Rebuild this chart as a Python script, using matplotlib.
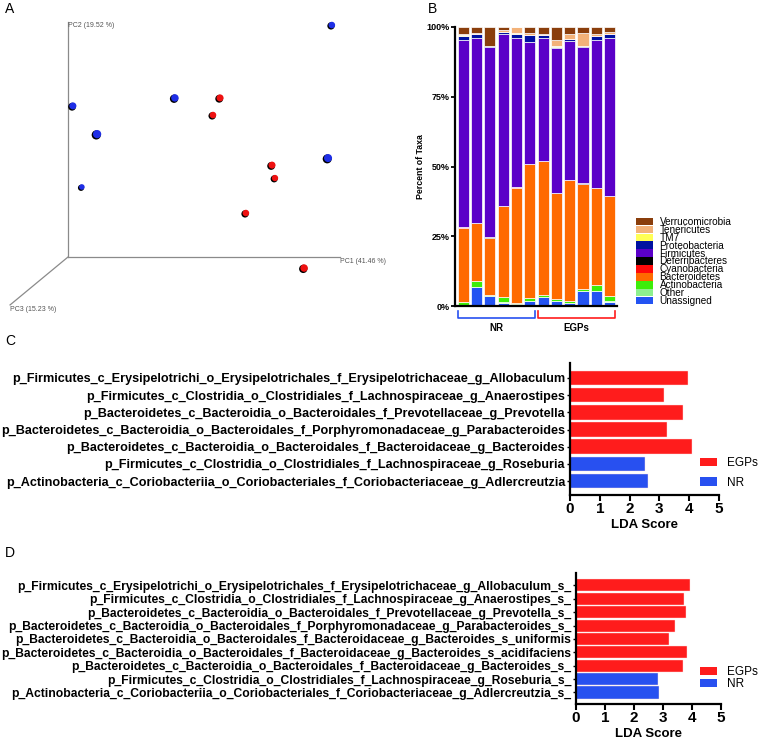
import matplotlib
matplotlib.use("Agg")
import matplotlib.pyplot as plt
from matplotlib.patches import Patch
from matplotlib.transforms import ScaledTranslation, blended_transform_factory
import numpy as np

plt.rcParams['font.family'] = ['Liberation Sans', 'DejaVu Sans']

W, H = 759, 743

# ── Panel A: PCoA, projected on drawing plane (PC1 / PC2 axis length = 1) ─────
blue_x = [0.970, 0.393, 0.018, 0.107, 0.051, 0.956]
blue_y = [0.987, 0.677, 0.643, 0.523, 0.298, 0.421]
blue_s = [28, 36, 32, 44, 20, 42]
red_x = [0.559, 0.533, 0.750, 0.761, 0.654, 0.868]
red_y = [0.677, 0.604, 0.391, 0.336, 0.187, -0.047]
red_s = [32, 28, 32, 26, 28, 36]
pc3_end = (-0.213, -0.204)

# ── Panel B: relative abundance per sample (%) ────────────────────────────────
phyla = ["Unassigned", "Other", "Actinobacteria", "Bacteroidetes", "Cyanobacteria",
         "Deferribacteres", "Firmicutes", "Proteobacteria", "TM7", "Tenericutes",
         "Verrucomicrobia"]
unassigned      = [0.3, 6.9, 3.6, 1.2, 0.7, 1.9, 3.1, 1.7, 1.0, 5.5, 5.2, 1.6]
other           = [0.2, 0.0, 0.0, 0.3, 0.0, 0.0, 0.0, 0.2, 0.2, 0.0, 0.0, 0.3]
actinobacteria  = [0.8, 2.1, 0.2, 1.8, 0.5, 0.8, 0.9, 0.7, 0.7, 0.5, 2.4, 1.7]
bacteroidetes   = [26.8, 20.8, 20.5, 32.4, 41.2, 48.3, 47.8, 38.0, 43.1, 37.9, 34.6, 35.8]
cyanobacteria   = [0.1, 0.0, 0.0, 0.0, 0.1, 0.0, 0.0, 0.0, 0.0, 0.0, 0.0, 0.0]
deferribacteres = [0.0, 0.0, 0.3, 0.0, 0.0, 0.0, 0.0, 0.0, 0.0, 0.3, 0.0, 0.0]
firmicutes      = [67.1, 66.4, 68.1, 61.9, 53.5, 43.8, 44.4, 51.8, 50.0, 48.7, 53.0, 56.5]
proteobacteria  = [1.6, 1.2, 0.5, 0.5, 1.4, 2.3, 0.8, 0.5, 0.6, 0.4, 1.5, 1.7]
tm7             = [0.2, 0.0, 0.0, 0.0, 0.3, 0.0, 0.0, 0.3, 0.0, 0.0, 0.0, 0.0]
tenericutes     = [0.4, 0.3, 0.0, 0.9, 2.3, 0.6, 0.5, 2.3, 2.0, 4.4, 0.7, 0.7]
verrucomicrobia = [2.5, 2.3, 6.8, 1.0, 0.0, 2.3, 2.5, 4.5, 2.4, 2.3, 2.6, 1.7]
groups_b = ["NR"] * 6 + ["EGPs"] * 6

phylum_colors = ["#2353f2", "#8ef08e", "#3ded0a", "#ff6a00", "#ff0a0a", "#000000",
                 "#5a00c8", "#0012a0", "#ffff55", "#f3b279", "#8a3e0c"]

# ── Panel C / D: LEfSe LDA scores ─────────────────────────────────────────────
lda_c_labels = [
    "p_Firmicutes_c_Erysipelotrichi_o_Erysipelotrichales_f_Erysipelotrichaceae_g_Allobaculum",
    "p_Firmicutes_c_Clostridia_o_Clostridiales_f_Lachnospiraceae_g_Anaerostipes",
    "p_Bacteroidetes_c_Bacteroidia_o_Bacteroidales_f_Prevotellaceae_g_Prevotella",
    "p_Bacteroidetes_c_Bacteroidia_o_Bacteroidales_f_Porphyromonadaceae_g_Parabacteroides",
    "p_Bacteroidetes_c_Bacteroidia_o_Bacteroidales_f_Bacteroidaceae_g_Bacteroides",
    "p_Firmicutes_c_Clostridia_o_Clostridiales_f_Lachnospiraceae_g_Roseburia",
    "p_Actinobacteria_c_Coriobacteriia_o_Coriobacteriales_f_Coriobacteriaceae_g_Adlercreutzia",
]
lda_c_values = [3.95, 3.15, 3.80, 3.24, 4.08, 2.52, 2.62]
lda_c_groups = ["EGPs"] * 5 + ["NR"] * 2

lda_d_labels = [
    "p_Firmicutes_c_Erysipelotrichi_o_Erysipelotrichales_f_Erysipelotrichaceae_g_Allobaculum_s_",
    "p_Firmicutes_c_Clostridia_o_Clostridiales_f_Lachnospiraceae_g_Anaerostipes_s_",
    "p_Bacteroidetes_c_Bacteroidia_o_Bacteroidales_f_Prevotellaceae_g_Prevotella_s_",
    "p_Bacteroidetes_c_Bacteroidia_o_Bacteroidales_f_Porphyromonadaceae_g_Parabacteroides_s_",
    "p_Bacteroidetes_c_Bacteroidia_o_Bacteroidales_f_Bacteroidaceae_g_Bacteroides_s_uniformis",
    "p_Bacteroidetes_c_Bacteroidia_o_Bacteroidales_f_Bacteroidaceae_g_Bacteroides_s_acidifaciens",
    "p_Bacteroidetes_c_Bacteroidia_o_Bacteroidales_f_Bacteroidaceae_g_Bacteroides_s_",
    "p_Firmicutes_c_Clostridia_o_Clostridiales_f_Lachnospiraceae_g_Roseburia_s_",
    "p_Actinobacteria_c_Coriobacteriia_o_Coriobacteriales_f_Coriobacteriaceae_g_Adlercreutzia_s_",
]
lda_d_values = [3.94, 3.74, 3.78, 3.40, 3.19, 3.82, 3.69, 2.83, 2.86]
lda_d_groups = ["EGPs"] * 7 + ["NR"] * 2

GROUP_COLORS = {"EGPs": "#ff1c1c", "NR": "#2850f0"}


def box(l, t, r, b):
    # pixel box -> figure fraction rect
    return [l / W, 1 - b / H, (r - l) / W, (b - t) / H]


fig = plt.figure(figsize=(W / 100, H / 100), dpi=100, facecolor="white")

# panel letters
for letter, (px, py) in zip("ABCD", [(5, 9), (428, 9), (5, 341), (5, 553)]):
    fig.text(px / W, 1 - py / H, letter, fontsize=10, ha="left", va="center")

# ── A ─────────────────────────────────────────────────────────────────────────
axA = fig.add_axes(box(68, 22, 340, 257))
axA.set_xlim(0, 1)
axA.set_ylim(0, 1)
axA.axis("off")
axis_kw = dict(color="#8a8a8a", lw=0.9, clip_on=False)
axA.plot([0, 0], [0, 1], **axis_kw)
axA.plot([0, 1], [0, 0], **axis_kw)
axA.plot([0, pc3_end[0]], [0, pc3_end[1]], **axis_kw)
lab_kw = dict(fontsize=5, color="#555555", clip_on=False)
axA.text(0, 1.0, "PC2 (19.52 %)", ha="left", va="top", **lab_kw)
axA.text(1.0, -0.005, "PC1 (41.46 %)", ha="left", va="top", **lab_kw)
axA.text(pc3_end[0], pc3_end[1] - 0.005, "PC3 (15.23 %)", ha="left", va="top", **lab_kw)
shade = axA.transData + ScaledTranslation(-0.6 / 72, -0.6 / 72, fig.dpi_scale_trans)
for xs, ys, ss, col in [(blue_x, blue_y, blue_s, "#1e2ee6"), (red_x, red_y, red_s, "#ee1111")]:
    axA.scatter(xs, ys, s=ss, color="black", transform=shade, clip_on=False, lw=0, zorder=3)
    axA.scatter(xs, ys, s=np.array(ss) * 0.8, color=col, clip_on=False, lw=0, zorder=4)

# ── B ─────────────────────────────────────────────────────────────────────────
axB = fig.add_axes(box(455, 27, 617, 306))
series = [unassigned, other, actinobacteria, bacteroidetes, cyanobacteria,
          deferribacteres, firmicutes, proteobacteria, tm7, tenericutes, verrucomicrobia]
xb = np.arange(len(unassigned))
bottom = np.zeros(len(xb))
handles = []
for name, vals, col in zip(phyla, series, phylum_colors):
    vals = np.array(vals)
    axB.bar(xb, vals, bottom=bottom, width=0.84, color=col, edgecolor="white",
            linewidth=0.5)
    bottom += vals
    handles.append(Patch(facecolor=col, edgecolor="none", label=name))
axB.set_xlim(-0.62, len(xb) - 0.45)
axB.set_ylim(0, 100)
axB.set_yticks([0, 25, 50, 75, 100])
axB.set_yticklabels(["0%", "25%", "50%", "75%", "100%"], fontsize=6.5, fontweight="bold")
axB.set_xticks([])
axB.set_ylabel("Percent of Taxa", fontsize=6.3, fontweight="bold", labelpad=1)
for s in ["top", "right"]:
    axB.spines[s].set_visible(False)
for s in ["left", "bottom"]:
    axB.spines[s].set_linewidth(1.6)
axB.tick_params(axis="y", length=3, width=1.3, pad=1)

# group brackets below the bars
trB = blended_transform_factory(axB.transData, axB.transAxes)
for grp, col in [("NR", "#2850f0"), ("EGPs", "#ff1c1c")]:
    idx = [i for i, g in enumerate(groups_b) if g == grp]
    x0, x1 = idx[0] - 0.42, idx[-1] + 0.42
    y0, y1 = -0.018, -0.042
    axB.plot([x0, x0, x1, x1], [y0, y1, y1, y0], color=col, lw=1.2,
             transform=trB, clip_on=False)
    axB.text((idx[0] + idx[-1]) / 2, -0.06, grp, ha="center", va="top",
             fontsize=7, fontweight="bold", transform=trB)

legB = fig.legend(handles=handles[::-1], loc="upper left",
                  bbox_to_anchor=(636 / W, 1 - 217 / H), frameon=False,
                  fontsize=7.2, handlelength=1.65, handleheight=0.8,
                  labelspacing=-0.21, handletextpad=0.7, borderpad=0,
                  borderaxespad=0)

# ── C / D ─────────────────────────────────────────────────────────────────────
def lda_panel(rect, labels, values, groups, fs, height, ylim, leg_anchor, leg_space):
    ax = fig.add_axes(rect)
    y = np.arange(len(values))
    cols = [GROUP_COLORS[g] for g in groups]
    ax.barh(y, values, height=height, color=cols, edgecolor="#ffdede", linewidth=0.3)
    ax.set_xlim(0, 5)
    ax.set_ylim(*ylim)
    ax.set_yticks(y)
    ax.set_yticklabels(labels, fontsize=fs, fontweight="bold")
    ax.set_xticks(range(6))
    ax.set_xticklabels([str(i) for i in range(6)], fontsize=11, fontweight="bold")
    ax.set_xlabel("LDA Score", fontsize=9.5, fontweight="bold", labelpad=2)
    for s in ["top", "right"]:
        ax.spines[s].set_visible(False)
    for s in ["left", "bottom"]:
        ax.spines[s].set_linewidth(1.6)
    ax.tick_params(axis="x", length=4, width=1.5, pad=1)
    ax.tick_params(axis="y", length=2.5, width=1.0, pad=1)
    leg_handles = [Patch(facecolor=GROUP_COLORS[g], label=g) for g in ["EGPs", "NR"]]
    ax.legend(handles=leg_handles, loc="upper left", bbox_to_anchor=leg_anchor,
              bbox_transform=fig.transFigure, frameon=False, fontsize=8.5,
              handlelength=1.45, handleheight=0.75, labelspacing=leg_space,
              handletextpad=0.8, borderpad=0, borderaxespad=0)
    return ax


lda_panel(box(570, 363, 719, 495), lda_c_labels, lda_c_values, lda_c_groups,
          9.1, 0.84, (6.81, -0.87), (700 / W, 1 - 457 / H), 0.65)
lda_panel(box(576, 573, 721, 704), lda_d_labels, lda_d_values, lda_d_groups,
          8.7, 0.9, (8.86, -0.93), (700 / W, 1 - 666 / H), 0.0)

fig.savefig("out.png", dpi=100, facecolor="white")
